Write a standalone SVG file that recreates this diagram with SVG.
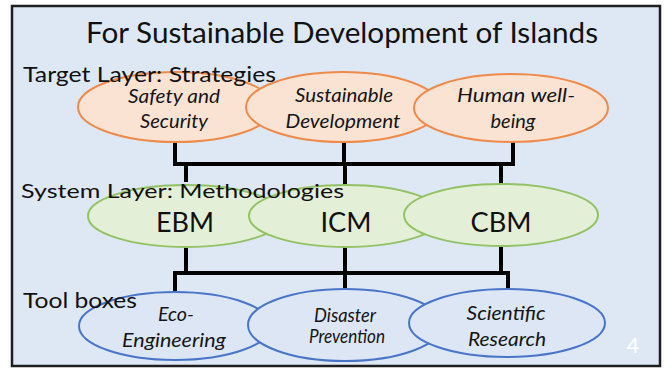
<svg xmlns="http://www.w3.org/2000/svg" width="667" height="369" viewBox="0 0 667 369">
<style>
.t{font-family:Lato,"Liberation Sans",sans-serif;fill:#111}
.lbl{font-family:Lato,"Liberation Sans",sans-serif;font-style:italic;fill:#151515;text-anchor:middle;font-size:19px}
.big{font-family:Lato,"Liberation Sans",sans-serif;fill:#111;text-anchor:middle;font-size:27px}
.or{fill:#fbe3d3;stroke:#ee8a4a;stroke-width:2}
.gr{fill:#e3efd6;stroke:#93c266;stroke-width:2}
.bl{fill:#dce6f4;stroke:#4a74c8;stroke-width:2}
.c{fill:none;stroke:#000;stroke-width:4}
</style>
<rect x="0" y="0" width="667" height="369" fill="#fff"/>
<rect x="12" y="6" width="648" height="360" fill="#dee8f4" stroke="#1e1e1e" stroke-width="2.5"/>
<text class="t" x="342" y="43" font-size="28" text-anchor="middle" textLength="512" lengthAdjust="spacingAndGlyphs">For Sustainable Development of Islands</text>
<g id="connectors">
<path class="c" d="M175,142 V164 H513 V142 M344,142 V164"/>
<path class="c" d="M186,164 V182 M345,164 V186 M501,164 V185"/>
<path class="c" d="M186,246 V273 M345,247 V273 M501,246 V273"/>
<path class="c" d="M175,291 V273 H508 V291 M345,273 V289"/>
</g>
<g id="safety"><ellipse class="or" cx="176" cy="107" rx="98" ry="35"/><text class="lbl" x="174" y="103" font-size="17" textLength="92" lengthAdjust="spacingAndGlyphs">Safety and</text><text class="lbl" x="174" y="128" textLength="68" lengthAdjust="spacingAndGlyphs">Security</text></g>
<g id="sustainable"><ellipse class="or" cx="343" cy="107" rx="97" ry="35"/><text class="lbl" x="344" y="102" textLength="98" lengthAdjust="spacingAndGlyphs">Sustainable</text><text class="lbl" x="343" y="128" textLength="115" lengthAdjust="spacingAndGlyphs">Development</text></g>
<g id="human"><ellipse class="or" cx="511" cy="108" rx="97" ry="34"/><text class="lbl" x="516" y="102" textLength="118" lengthAdjust="spacingAndGlyphs">Human well-</text><text class="lbl" x="513" y="128" textLength="45" lengthAdjust="spacingAndGlyphs">being</text></g>
<text class="t" x="23" y="82" font-size="21" textLength="253" lengthAdjust="spacingAndGlyphs">Target Layer: Strategies</text>
<g id="ebm"><ellipse class="gr" cx="186" cy="216" rx="98" ry="31"/><text class="big" x="185" y="232" textLength="58" lengthAdjust="spacingAndGlyphs">EBM</text></g>
<g id="icm"><ellipse class="gr" cx="346" cy="216" rx="97" ry="31"/><text class="big" x="346" y="232" textLength="51" lengthAdjust="spacingAndGlyphs">ICM</text></g>
<g id="cbm"><ellipse class="gr" cx="501" cy="215" rx="97" ry="31"/><text class="big" x="501" y="232" textLength="61" lengthAdjust="spacingAndGlyphs">CBM</text></g>
<text class="t" x="21" y="198" font-size="20" textLength="323" lengthAdjust="spacingAndGlyphs">System Layer: Methodologies</text>
<g id="eco"><ellipse class="bl" cx="175" cy="326" rx="96" ry="34"/><text class="lbl" x="176" y="321" textLength="36" lengthAdjust="spacingAndGlyphs">Eco-</text><text class="lbl" x="174" y="347" textLength="104" lengthAdjust="spacingAndGlyphs">Engineering</text></g>
<g id="disaster"><ellipse class="bl" cx="345" cy="325" rx="97" ry="36"/><text class="lbl" x="345" y="322" font-size="17" textLength="62" lengthAdjust="spacingAndGlyphs">Disaster</text><text class="lbl" x="347" y="343" font-size="17" textLength="76" lengthAdjust="spacingAndGlyphs">Prevention</text></g>
<g id="scientific"><ellipse class="bl" cx="507" cy="323" rx="98" ry="34"/><text class="lbl" x="506" y="320" textLength="79" lengthAdjust="spacingAndGlyphs">Scientific</text><text class="lbl" x="507" y="346" textLength="78" lengthAdjust="spacingAndGlyphs">Research</text></g>
<text class="t" x="23" y="308" font-size="21" textLength="114" lengthAdjust="spacingAndGlyphs">Tool boxes</text>
<text x="633" y="353" font-family="Lato,'Liberation Sans',sans-serif" font-size="22" fill="#fff" text-anchor="middle">4</text>
</svg>
